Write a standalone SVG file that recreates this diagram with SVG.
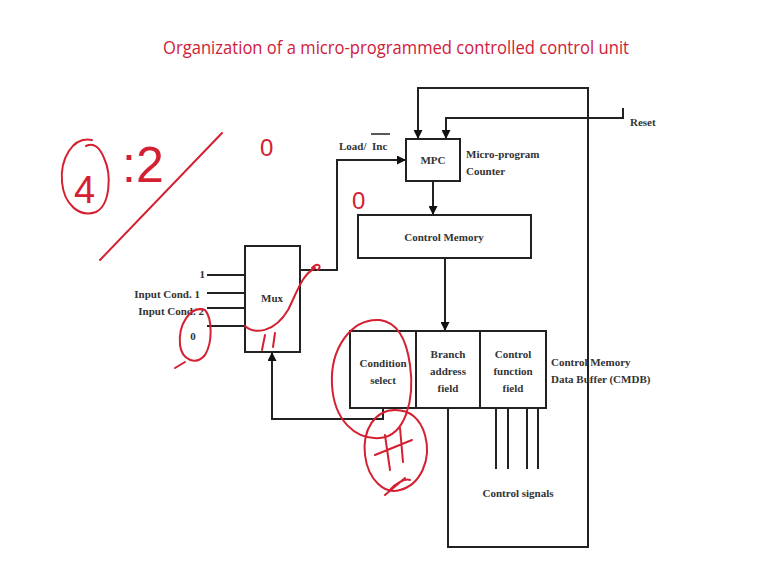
<svg xmlns="http://www.w3.org/2000/svg" width="767" height="574" viewBox="0 0 767 574">
<style>
.box{fill:#fff;stroke:#222;stroke-width:2}
.ln{fill:none;stroke:#222;stroke-width:2}
.t{font-family:"Liberation Serif",serif;font-weight:bold;font-size:11px;fill:#333}
.c{text-anchor:middle}
.ink{fill:none;stroke:#d42030;stroke-width:2;stroke-linecap:round;stroke-linejoin:round}
.hw{font-family:"Liberation Sans",sans-serif;fill:#d42030}
</style>
<defs>
<marker id="ah" viewBox="0 0 10 10" refX="10" refY="5" markerWidth="9" markerHeight="9" markerUnits="userSpaceOnUse" orient="auto">
<path d="M0,0 L10,5 L0,10 Z" fill="#111"/>
</marker>
</defs>
<rect width="767" height="574" fill="#fff"/>
<text x="163" y="54" textLength="466" lengthAdjust="spacingAndGlyphs" font-family="'Open Sans','Liberation Sans',sans-serif" font-size="19" fill="#d0203a">Organization of a micro-programmed controlled control unit</text>

<g id="connectors">
<path class="ln" d="M588,548 V88 H418 V139" marker-end="url(#ah)"/>
<path class="ln" d="M623,108 V118 H446 V139" marker-end="url(#ah)"/>
<path class="ln" d="M300,270 H337 V160 H406" marker-end="url(#ah)"/>
<path class="ln" d="M433,181 V215" marker-end="url(#ah)"/>
<path class="ln" d="M445,258 V331" marker-end="url(#ah)"/>
<path class="ln" d="M383,408 V419 H272 V352" marker-end="url(#ah)"/>
<path class="ln" d="M448,408 V547 H588"/>
<path class="ln" d="M496,408 V469 M508,408 V469 M527,408 V469 M538,408 V469"/>
<path class="ln" d="M207,275 H245 M207,293 H245 M207,308 H245 M207,326 H245"/>
</g>

<g id="mpc">
<rect class="box" x="406" y="139" width="54" height="42"/>
<text class="t c" x="433" y="164">MPC</text>
<text class="t" x="466" y="158">Micro-program</text>
<text class="t" x="466" y="175">Counter</text>
</g>
<g id="loadinc">
<text class="t" x="339" y="150">Load/</text>
<text class="t" x="372" y="150">Inc</text>
<line x1="371" y1="134" x2="390" y2="134" stroke="#222" stroke-width="1.5"/>
</g>
<g id="reset"><text class="t" x="630" y="126">Reset</text></g>

<g id="control-memory">
<rect class="box" x="358" y="215" width="173" height="43"/>
<text class="t c" x="444" y="241">Control Memory</text>
</g>

<g id="mux">
<rect class="box" x="245" y="246" width="55" height="106"/>
<text class="t c" x="272" y="302">Mux</text>
<text class="t" x="205" y="278" text-anchor="end">1</text>
<text class="t" x="200" y="298" text-anchor="end">Input Cond. 1</text>
<text class="t" x="204" y="315" text-anchor="end">Input Cond. 2</text>
<text class="t" x="193" y="340" text-anchor="middle">0</text>
</g>

<g id="cmdb">
<rect class="box" x="350" y="331" width="196" height="77"/>
<line class="ln" x1="416" y1="331" x2="416" y2="408"/>
<line class="ln" x1="480" y1="331" x2="480" y2="408"/>
<text class="t c" x="383" y="367">Condition</text>
<text class="t c" x="383" y="384">select</text>
<text class="t c" x="448" y="358">Branch</text>
<text class="t c" x="448" y="375">address</text>
<text class="t c" x="448" y="392">field</text>
<text class="t c" x="513" y="358">Control</text>
<text class="t c" x="513" y="375">function</text>
<text class="t c" x="513" y="392">field</text>
<text class="t" x="551" y="366">Control Memory</text>
<text class="t" x="551" y="383">Data Buffer (CMDB)</text>
</g>

<g id="control-signals"><text class="t c" x="518" y="497">Control signals</text></g>

<g id="annotations">
<path class="ink" d="M92,140 C72,136 60,160 62,182 C64,205 80,218 96,212 C110,205 112,175 104,158 C100,148 94,142 86,146"/>
<text class="hw" x="74" y="203" font-size="38">4</text>
<text class="hw" x="122" y="182" font-size="50">:2</text>
<path class="ink" d="M100,260 L222,133"/>
<text class="hw" x="260" y="156" font-size="24">0</text>
<text class="hw" x="352" y="209" font-size="24">0</text>
<path class="ink" d="M245,326 C255,335 275,332 288,310 C298,290 302,275 315,268 M312,268 C318,262 322,266 318,270"/>
<path class="ink" d="M265,335 L262,350 M275,333 L273,347"/>
<path class="ink" d="M205,310 C190,305 178,325 180,345 C182,360 196,366 205,355 C213,342 212,318 205,310 M185,362 L175,368"/>
<path class="ink" d="M380,320 C350,318 330,350 332,385 C334,420 355,440 380,438 C405,436 415,400 410,365 C406,335 395,322 380,320"/>
<path class="ink" d="M395,410 C375,410 362,430 365,455 C368,480 385,495 400,490 C420,485 432,460 425,435 C420,418 410,410 395,410"/>
<path class="ink" d="M385,435 L390,470 M400,428 L403,462 M375,455 L412,440"/>
<path class="ink" d="M385,495 L405,478 M390,490 C395,484 405,478 410,480"/>
</g>
</svg>
